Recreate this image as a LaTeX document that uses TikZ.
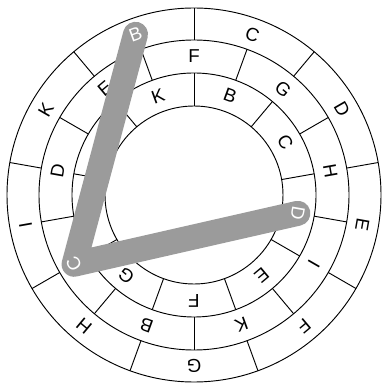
\documentclass[tikz,border=0pt]{standalone}
\usepackage{fontspec}
\setmainfont{Liberation Sans}
\definecolor{colTrack}{RGB}{155,155,155}

\begin{document}
\begin{tikzpicture}[
  x=0.75pt, y=0.75pt,
  ring/.style={draw=black, line width=0.7pt},
  cell/.style={inner sep=0pt, font=\fontsize{14}{16}\selectfont},
  hit/.style={cell, text=white},
  track/.style={line width=18.75pt, colTrack, line cap=round, line join=round},
]
\useasboundingbox (-194,-189) rectangle (187,195);

% rings and cell borders
\foreach \r in {89,122,155,187}
  \draw[ring] (0,0) circle (\r);
\foreach \a in {10,50,...,330} {
  \draw[ring] (\a:89) -- (\a:122);
  \draw[ring] (\a:155) -- (\a:187);
}
\foreach \a in {30,70,...,350}
  \draw[ring] (\a:122) -- (\a:155);

% outer ring
\foreach \l [count=\k from 0] in {B,C,D,E,F,G,H,I,K} {
  \pgfmathsetmacro\ang{110-40*\k}
  \coordinate (out\l) at (\ang:171);
  \ifnum\k=0\relax\else
    \node[cell, rotate=\ang-90] (t-out\l) at (out\l) {\l};
  \fi
}
% middle ring
\foreach \l [count=\k from 0] in {F,G,H,I,K,B,C,D,E} {
  \pgfmathsetmacro\ang{90-40*\k}
  \coordinate (mid\l) at (\ang:138.5);
  \ifnum\k=6\relax\else
    \node[cell, rotate=\ang-90] (t-mid\l) at (mid\l) {\l};
  \fi
}
% inner ring
\foreach \l [count=\k from 0] in {K,B,C,D,E,F,G,H,I} {
  \pgfmathsetmacro\ang{110-40*\k}
  \coordinate (in\l) at (\ang:105.5);
  \ifnum\k=3\relax\else
    \node[cell, rotate=\ang-90] (t-in\l) at (in\l) {\l};
  \fi
}

\draw[track] (outB) -- (midC) -- (inD);
\node[hit, rotate=20] (t-outB) at (outB) {B};
\node[hit, rotate=120] (t-midC) at (midC) {C};
\node[hit, rotate=-100] (t-inD) at (inD) {D};
\end{tikzpicture}
\end{document}
